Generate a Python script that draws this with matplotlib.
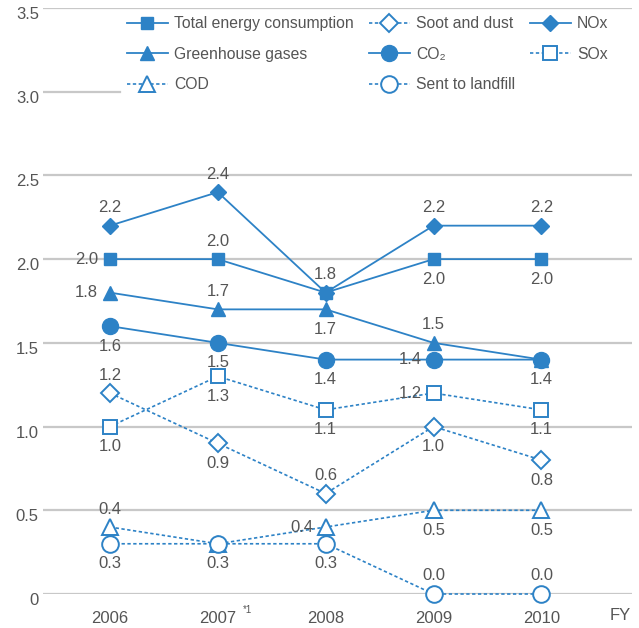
import matplotlib
matplotlib.use("Agg")

import matplotlib.pyplot as plt
import matplotlib.transforms as mtransforms

plt.rcParams['font.family'] = ['Liberation Sans', 'DejaVu Sans']

years = [2006, 2007, 2008, 2009, 2010]
year_labels = ['2006', '2007', '2008', '2009', '2010']

energy = [2.0, 2.0, 1.8, 2.0, 2.0]
ghg = [1.8, 1.7, 1.7, 1.5, 1.4]
cod = [0.4, 0.3, 0.4, 0.5, 0.5]
soot = [1.2, 0.9, 0.6, 1.0, 0.8]
co2 = [1.6, 1.5, 1.4, 1.4, 1.4]
landfill = [0.3, 0.3, 0.3, 0.0, 0.0]
nox = [2.2, 2.4, 1.8, 2.2, 2.2]
sox = [1.0, 1.3, 1.1, 1.2, 1.1]

yticks = [0, 0.5, 1.0, 1.5, 2.0, 2.5, 3.0, 3.5]
ytick_labels = ['0', '0.5', '1.0', '1.5', '2.0', '2.5', '3.0', '3.5']

BLUE = '#2d82c6'
TEXT = '#555555'
GRID = '#c8c8c8'

fig = plt.figure(figsize=(6.39, 6.28), dpi=100)
ax = fig.add_axes([43 / 639, 1 - 594 / 628, 589 / 639, 586 / 628])
ax.set_xlim(2005.38, 2010.84)
ax.set_ylim(0, 3.5)

# horizontal guides; the 3.0 one stops where the legend starts
for y in yticks:
    xmax = 0.13 if y == 3.0 else 1.0
    ax.axhline(y, xmin=0, xmax=xmax, color=GRID, lw=1.6, zorder=0)

solid = dict(color=BLUE, lw=1.3, clip_on=False, zorder=3)
dotted = dict(color=BLUE, lw=1.2, ls=(0, (2, 1.5)), clip_on=False, zorder=2,
              markerfacecolor='white', markeredgewidth=1.4)

# label placement per point: a = above, b = below, l = left, None = no label
series = [
    ('Total energy consumption', energy, dict(marker='s', ms=8.5, **solid),
     ['l', 'a', 'a', 'b', 'b']),
    ('Greenhouse gases', ghg, dict(marker='^', ms=10, **solid),
     ['l', 'a', 'b', 'a', None]),
    ('COD', cod, dict(marker='^', ms=11, **dotted),
     ['a', None, 'l', 'b', 'b']),
    ('Soot and dust', soot, dict(marker='D', ms=9, **dotted),
     ['a', 'b', 'a', 'b', 'b']),
    ('CO₂', co2, dict(marker='o', ms=11.5, **solid),
     ['b', 'b', 'b', 'l', 'b']),
    ('Sent to landfill', landfill, dict(marker='o', ms=12, **dotted),
     ['b', 'b', 'b', 'a', 'a']),
    ('NOx', nox, dict(marker='D', ms=8.5, **{**solid, 'zorder': 2.9}),
     ['a', 'a', None, 'a', 'a']),
    ('SOx', sox, dict(marker='s', ms=9.5, **dotted),
     ['b', 'b', 'b', 'l', 'b']),
]

offsets = {'a': (0, 18, 'center'), 'b': (0, -20, 'center'), 'l': (-12, 0, 'right')}

handles = []
for name, vals, style, places in series:
    h, = ax.plot(years, vals, label=name, **style)
    handles.append(h)
    for x, v, p in zip(years, vals, places):
        if p is None:
            continue
        dx, dy, ha = offsets[p]
        ax.annotate(f'{v:.1f}', (x, v), xytext=(dx, dy), textcoords='offset pixels',
                    ha=ha, va='center', fontsize=12, color=TEXT, zorder=5)

leg = ax.legend(handles=handles, ncol=3, frameon=False, loc='upper left',
                bbox_to_anchor=(127 / 639, 1 - 16 / 628), bbox_transform=fig.transFigure,
                fontsize=11.3, handlelength=2.6, handletextpad=0.4, columnspacing=0.95,
                labelspacing=1.0, borderpad=0, borderaxespad=0)
for t in leg.get_texts():
    t.set_color(TEXT)

for s in ax.spines.values():
    s.set_visible(False)

ax.set_xticks(years)
ax.set_xticklabels(year_labels)
ax.set_yticks(yticks)
ax.set_yticklabels(ytick_labels)
ax.tick_params(length=0, labelsize=12, labelcolor=TEXT)
ax.tick_params(axis='x', pad=12)
ax.tick_params(axis='y', pad=3)

# y labels sit slightly below their guides
shift = mtransforms.ScaledTranslation(0, -5 / 100, fig.dpi_scale_trans)
for lab in ax.get_yticklabels():
    lab.set_transform(lab.get_transform() + shift)

ax.annotate('*1', (2007, 0), xytext=(25, -16), textcoords='offset pixels',
            fontsize=7, color=TEXT, ha='left', va='center')
ax.annotate('FY', (2010.84, 0), xytext=(-12, -22), textcoords='offset pixels',
            fontsize=12, color=TEXT, ha='center', va='center')

fig.savefig('out.png', dpi=100)
plt.close(fig)
